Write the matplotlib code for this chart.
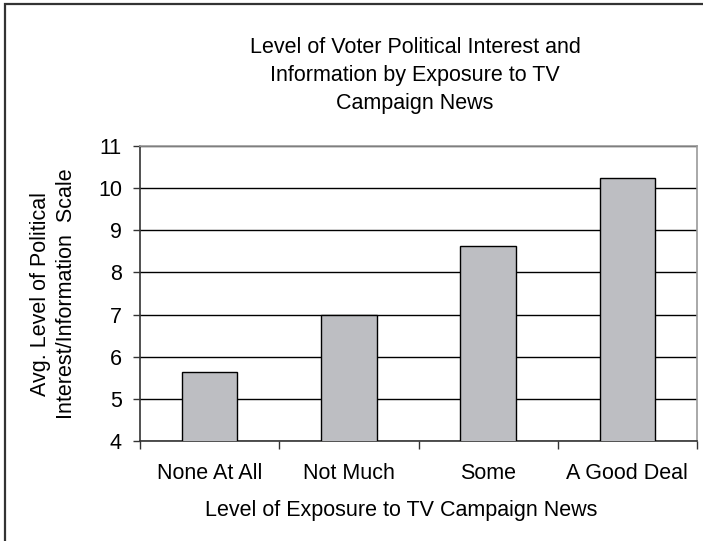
import matplotlib
matplotlib.use("Agg")
import matplotlib.pyplot as plt
from matplotlib.patches import Rectangle

plt.rcParams['font.family'] = ['Liberation Sans', 'DejaVu Sans']

categories = ["None At All", "Not Much", "Some", "A Good Deal"]
values = [5.63, 7.0, 8.63, 10.23]
yticks = [4, 5, 6, 7, 8, 9, 10, 11]

title = "Level of Voter Political Interest and\nInformation by Exposure to TV\nCampaign News"
xlabel = "Level of Exposure to TV Campaign News"
ylabel = "Avg. Level of Political\nInterest/Information  Scale"

fs = 15.5

fig = plt.figure(figsize=(7.03, 5.41), dpi=100)
# outer chart border (right/bottom run off the canvas)
fig.patches.append(Rectangle((4.5 / 703, -0.05), 1.1, 1 - 4.5 / 541 + 0.05,
                             transform=fig.transFigure, fill=False,
                             edgecolor="#333333", linewidth=1.6))

ax = fig.add_axes([140 / 703, 100 / 541, 557 / 703, 295 / 541])
x = list(range(len(categories)))
ax.bar(x, values, width=0.4, color="#bdbec2", edgecolor="black", linewidth=1.0,
       zorder=3)
ax.set_ylim(4, 11)
ax.set_xlim(-0.5, len(categories) - 0.5)
ax.set_yticks(yticks)
ax.yaxis.grid(True, color="black", linewidth=1.0, zorder=0)
ax.set_axisbelow(True)

ax.set_xticks([i - 0.5 for i in range(len(categories) + 1)])
ax.set_xticklabels([])
ax.set_xticks(x, minor=True)
ax.set_xticklabels(categories, minor=True, fontsize=fs)
ax.tick_params(axis="x", which="minor", length=0, pad=16)
ax.tick_params(axis="x", which="major", direction="out", length=6, width=1, color="#333333")
ax.tick_params(axis="y", direction="out", length=5, width=1, labelsize=fs, pad=8, color="#333333")

for s in ["top", "right"]:
    ax.spines[s].set_color("#999999")
    ax.spines[s].set_linewidth(1.2)
for s in ["left", "bottom"]:
    ax.spines[s].set_color("#333333")
    ax.spines[s].set_linewidth(1.2)

ax.set_xlabel(xlabel, fontsize=fs)
ax.xaxis.set_label_coords(0.4686, -0.234)
ax.set_ylabel(ylabel, fontsize=fs, linespacing=1.3)
ax.yaxis.set_label_coords(-0.156, 0.5)
ax.xaxis.label.set_va("center")
ax.yaxis.label.set_va("center")
fig.text(415 / 703, 1 - 75.5 / 541, title, ha="center", va="center", fontsize=fs,
         linespacing=1.42)

fig.savefig("out.png", dpi=100)
